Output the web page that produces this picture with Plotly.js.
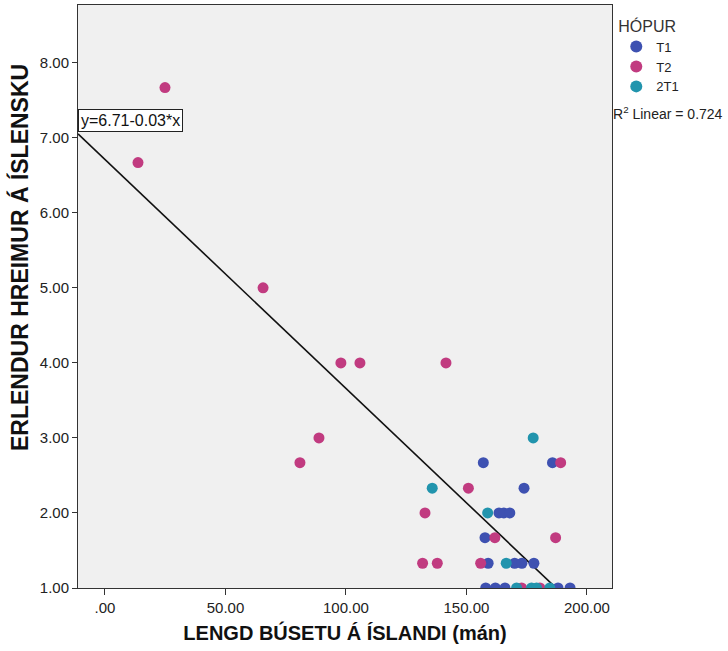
<!DOCTYPE html>
<html>
<head>
<meta charset="utf-8">
<script src="https://cdn.plot.ly/plotly-3.0.1.min.js"></script>
<style>html,body{margin:0;padding:0;background:#fff;}#chart{width:728px;height:651px;}</style>
</head>
<body>
<div id="chart"></div>
<script>
// ---- data ----
const groupNames = ["T1", "T2", "2T1"];

const t1X = [157, 185.7, 173.9, 163.5, 165.5, 168, 157.7, 159, 170, 173, 178, 158, 162, 166, 188, 193];
const t1Y = [2.67, 2.67, 2.33, 2.0, 2.0, 2.0, 1.67, 1.33, 1.33, 1.33, 1.33, 1, 1, 1, 1, 1];

const t2X = [13.7, 24.9, 65.6, 97.9, 105.8, 141.5, 88.8, 80.9, 189.1, 150.8, 132.8, 161.8, 187, 131.8, 137.9, 155.9, 172.9, 180.5];
const t2Y = [6.67, 7.67, 5.0, 4.0, 4.0, 4.0, 3.0, 2.67, 2.67, 2.33, 2.0, 1.67, 1.67, 1.33, 1.33, 1.33, 1, 1];

const t3X = [177.7, 135.8, 158.8, 166.5, 170.8, 177, 179.1, 184.6];
const t3Y = [3.0, 2.33, 2.0, 1.33, 1, 1, 1, 1];

const fitIntercept = 6.71;
const fitSlope = -0.0305;
const rSquared = 0.724;

const xTickVals = [0, 50, 100, 150, 200];
const xTickText = [".00", "50.00", "100.00", "150.00", "200.00"];
const yTickVals = [1, 2, 3, 4, 5, 6, 7, 8];
const yTickText = ["1.00", "2.00", "3.00", "4.00", "5.00", "6.00", "7.00", "8.00"];

const xTitle = "LENGD BÚSETU Á ÍSLANDI (mán)";
const yTitle = "ERLENDUR HREIMUR Á ÍSLENSKU";
const legendTitle = "HÓPUR";

// ---- chart ----
const xRange = [-11.2, 210.4];
const yRange = [1, 8.77];
const colors = ["#3e51b1", "#c13b80", "#2194ad"];
const FONT = "Arial, 'Liberation Sans', sans-serif";

function pts(x, y, i) {
  return {
    type: "scatter", mode: "markers", x: x, y: y, name: groupNames[i],
    marker: {color: colors[i], size: 11, line: {width: 0}},
    hoverinfo: "x+y"
  };
}
const fitX = [xRange[0], xRange[1]];
const fitY = fitX.map(v => fitIntercept + fitSlope * v);

const traces = [
  {type: "scatter", mode: "lines", x: fitX, y: fitY, line: {color: "#111", width: 1.6}, showlegend: false, hoverinfo: "skip"},
  pts(t1X, t1Y, 0),
  pts(t2X, t2Y, 1),
  pts(t3X, t3Y, 2)
];

const layout = {
  width: 728, height: 651,
  margin: {l: 78, r: 116, t: 5, b: 63},
  paper_bgcolor: "#ffffff",
  plot_bgcolor: "#f0f0f0",
  font: {family: FONT, size: 15, color: "#222"},
  showlegend: true,
  legend: {
    x: 1.008, xanchor: "left", y: 0.99, yanchor: "top",
    title: {text: legendTitle, font: {size: 16, color: "#333"}},
    font: {size: 13, color: "#222"},
    bgcolor: "rgba(0,0,0,0)", tracegroupgap: 0, itemwidth: 30, itemsizing: "constant"
  },
  xaxis: {
    range: xRange, tickvals: xTickVals, ticktext: xTickText,
    showgrid: false, zeroline: false,
    showline: true, linecolor: "#333", linewidth: 1, mirror: true,
    ticks: "outside", ticklen: 6, tickcolor: "#333",
    tickfont: {size: 15, color: "#222"},
    title: {text: xTitle, font: {size: 20, weight: "bold", color: "#111"}, standoff: 10}
  },
  yaxis: {
    range: yRange, tickvals: yTickVals, ticktext: yTickText,
    showgrid: false, zeroline: false,
    showline: true, linecolor: "#333", linewidth: 1, mirror: true,
    ticks: "outside", ticklen: 5, tickcolor: "#333",
    tickfont: {size: 15, color: "#222"}
  },
  annotations: [
    {xref: "paper", yref: "paper", x: (19 - 78) / 534, xanchor: "center", y: (588 - 258) / 583, yanchor: "middle",
     text: yTitle, textangle: -90, showarrow: false, font: {size: 23, weight: "bold", color: "#111"}},
    {xref: "paper", yref: "paper", x: 0, xanchor: "left", y: (588 - 109) / 583, yanchor: "top",
     text: "y=6.71-0.03*x", showarrow: false, font: {size: 16, color: "#111"},
     bgcolor: "#ffffff", bordercolor: "#222", borderwidth: 1, borderpad: 2},
    {xref: "paper", yref: "paper", x: 0.998, xanchor: "left", y: (588 - 113) / 583, yanchor: "middle",
     text: "R<sup>2</sup> Linear = " + rSquared.toFixed(3), showarrow: false, font: {size: 14, color: "#222"}}
  ]
};

Plotly.newPlot("chart", traces, layout, {displayModeBar: false, staticPlot: true});
</script>
</body>
</html>
